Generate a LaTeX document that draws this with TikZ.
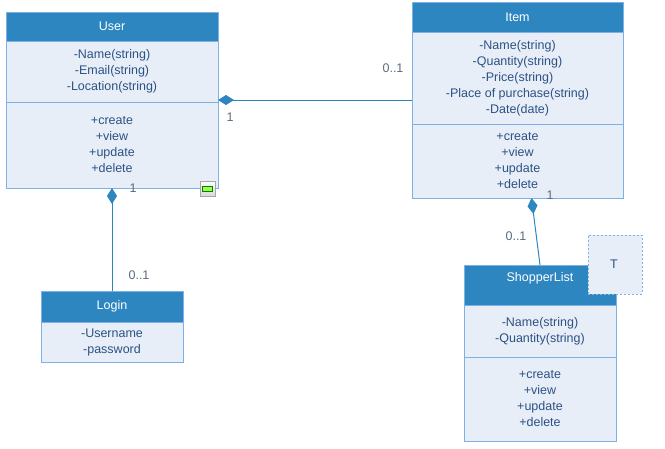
\documentclass[tikz,border=0pt]{standalone}
\usepackage{fontspec}
\setmainfont{Liberation Sans}
\usetikzlibrary{arrows.meta,calc}
\definecolor{hdr}{HTML}{2E86C1}
\definecolor{bodyc}{HTML}{E8EEF8}
\definecolor{edgec}{HTML}{7EB2E6}
\definecolor{txt}{HTML}{2B5283}
\definecolor{lbl}{HTML}{5A6B80}
\definecolor{connc}{HTML}{2E86C1}
\begin{document}
\begin{tikzpicture}[x=1pt,y=-1pt,
  box/.style={draw=edgec, line width=1pt, fill=bodyc, inner sep=0pt, outer sep=0pt,
    anchor=north west, align=center, text=txt, font=\fontsize{12.5}{16}\selectfont},
  hbox/.style={box, fill=hdr, text=white},
  frame/.style={inner sep=0pt, outer sep=0pt, anchor=north west},
  conn/.style={draw=connc, line width=1pt},
  comp/.style={{Diamond[length=16pt,width=10pt]}-},
  mult/.style={text=lbl, font=\fontsize{12.5}{14}\selectfont, inner sep=0pt}]
\useasboundingbox (0,0) rectangle (665,448);

% User
\node[frame, minimum width=212pt, minimum height=176pt] (user) at (6,12) {};
\node[hbox, minimum width=212pt, minimum height=29pt] (userh) at (6,12) {User};
\node[box, minimum width=212pt, minimum height=61pt] (usera) at (6,41) {-Name(string)\\-Email(string)\\-Location(string)};
\node[box, minimum width=212pt, minimum height=86pt] (userm) at (6,102) {+create\\+view\\+update\\+delete};
\node[draw=gray!70, line width=0.8pt, top color=white, bottom color=gray!30, minimum width=15pt, minimum height=15pt, inner sep=0pt] (icon) at (207.5,188.5) {};
\node[draw=green!50!black, fill=green!55!yellow!70, line width=0.6pt, minimum width=10pt, minimum height=5pt, inner sep=0pt] (iconbar) at (icon.center) {};

% Item
\node[frame, minimum width=211pt, minimum height=196pt] (item) at (412,2) {};
\node[hbox, minimum width=211pt, minimum height=30pt] (itemh) at (412,2) {Item};
\node[box, minimum width=211pt, minimum height=92pt] (itema) at (412,32) {-Name(string)\\-Quantity(string)\\-Price(string)\\-Place of purchase(string)\\-Date(date)};
\node[box, minimum width=211pt, minimum height=74pt] (itemm) at (412,124) {+create\\+view\\+update\\+delete};

% Login
\node[frame, minimum width=142pt, minimum height=71pt] (login) at (41,291) {};
\node[hbox, minimum width=142pt, minimum height=31pt] (loginh) at (41,291) {Login};
\node[box, minimum width=142pt, minimum height=40pt] (logina) at (41,322) {-Username\\-password};

% ShopperList
\node[frame, minimum width=152pt, minimum height=176pt] (shop) at (464,265) {};
\node[hbox, minimum width=152pt, minimum height=40pt] (shoph) at (464,265) {};
\node[text=white, font=\fontsize{12.5}{16}\selectfont, inner sep=0pt] (shopt) at (540,278) {ShopperList};
\node[box, minimum width=152pt, minimum height=52pt] (shopa) at (464,305) {-Name(string)\\-Quantity(string)};
\node[box, minimum width=152pt, minimum height=84pt] (shopm) at (464,357) {+create\\+view\\+update\\+delete};
\node[box, dashed, dash pattern=on 2pt off 2pt, minimum width=54pt, minimum height=59pt] (tpl) at (588,235) {};
\node[text=txt, font=\fontsize{12.5}{16}\selectfont, inner sep=0pt] (tplt) at (614,264) {T};

% Connectors
\draw[conn, comp] (user.east) -- (item.west);
\draw[conn, comp] (user.south) -- (login.north);
\coordinate (itemd) at ($(item.south)+(14,0)$);
\draw[conn, comp] (itemd) -- (shop.north);

% Multiplicities
\node[mult] (m1) at (230,117) {1};
\node[mult] (m2) at (393,68) {0..1};
\node[mult] (m3) at (133,188) {1};
\node[mult] (m4) at (139,275) {0..1};
\node[mult] (m5) at (550,195) {1};
\node[mult] (m6) at (516,236) {0..1};
\end{tikzpicture}
\end{document}
